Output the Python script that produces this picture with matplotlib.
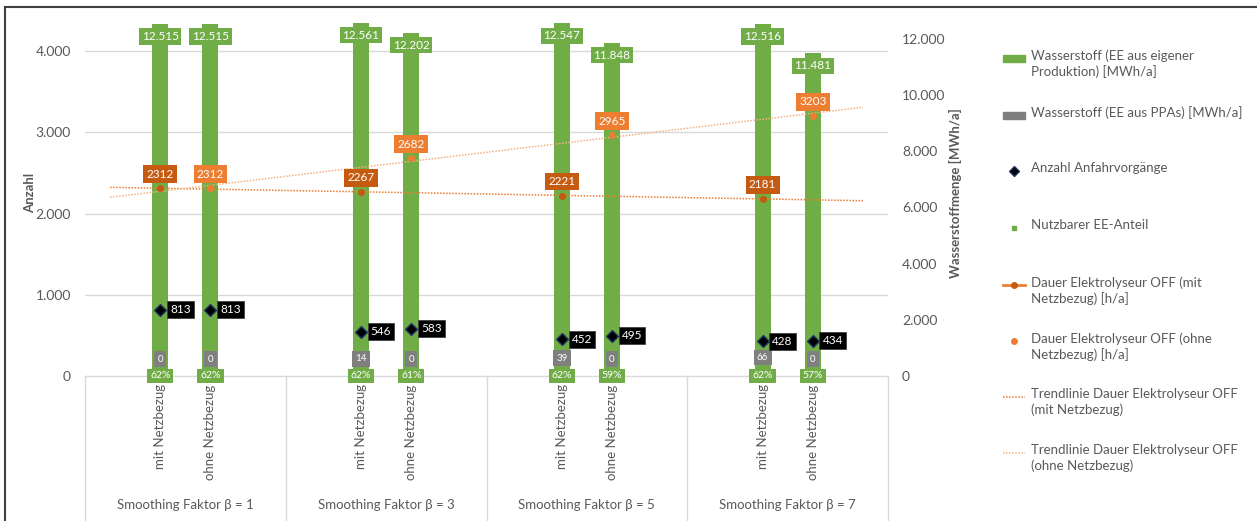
import numpy as np
import matplotlib
matplotlib.use("Agg")
import matplotlib.pyplot as plt
from matplotlib.lines import Line2D
from matplotlib.patches import Rectangle
from matplotlib.transforms import blended_transform_factory

plt.rcParams['font.family'] = ['Lato', 'DejaVu Sans']

# ---- data -------------------------------------------------------------
groups = ["Smoothing Faktor β = 1", "Smoothing Faktor β = 3",
          "Smoothing Faktor β = 5", "Smoothing Faktor β = 7"]
variants = ["mit Netzbezug", "ohne Netzbezug"]
h2_own = [12515, 12515, 12561, 12202, 12547, 11848, 12516, 11481]   # MWh/a
h2_ppa = [0, 0, 14, 0, 39, 0, 66, 0]                                # MWh/a
starts = [813, 813, 546, 583, 452, 495, 428, 434]                   # Anzahl
ee_share = [0.62, 0.62, 0.62, 0.61, 0.62, 0.59, 0.62, 0.57]
off_mit = [2312, 2267, 2221, 2181]    # h/a
off_ohne = [2312, 2682, 2965, 3203]   # h/a

legend_labels = [
    "Wasserstoff (EE aus eigener\nProduktion) [MWh/a]",
    "Wasserstoff (EE aus PPAs) [MWh/a]",
    "Anzahl Anfahrvorgänge",
    "Nutzbarer EE-Anteil",
    "Dauer Elektrolyseur OFF (mit\nNetzbezug) [h/a]",
    "Dauer Elektrolyseur OFF (ohne\nNetzbezug) [h/a]",
    "Trendlinie Dauer Elektrolyseur OFF\n(mit Netzbezug)",
    "Trendlinie Dauer Elektrolyseur OFF\n(ohne Netzbezug)",
]

GREEN = '#70AD47'
GRAY = '#7F7F7F'
DARK_OR = '#C55A11'
OR = '#ED7D31'
PEACH = '#F4B183'
TXT = '#595959'
GRID = '#D9D9D9'

# four category slots per group, bars in the two middle slots
n_slots = 4 * len(groups)
pos = []
for g in range(len(groups)):
    pos += [4 * g + 1, 4 * g + 2]
pos = np.array(pos)
pos_mit = pos[0::2]
pos_ohne = pos[1::2]

def fmt(v):
    return f"{v:,}".replace(",", ".")

W, H = 1257, 521
fig = plt.figure(figsize=(W / 100, H / 100), dpi=100)

def px(x0, y0, x1, y1):
    return [x0 / W, 1 - y1 / H, (x1 - x0) / W, (y1 - y0) / H]

ax = fig.add_axes(px(85, 10.4, 888, 376))     # hydrogen axis (right scale)
ax2 = ax.twinx()                               # count / hours axis (left scale)

ax.set_xlim(-0.5, n_slots - 0.5)
ax.set_ylim(0, 13000)
ax2.set_ylim(0, 4500)

# gridlines of the left scale, behind the bars
gtr = blended_transform_factory(ax.transAxes, ax2.transData)
for v in range(1000, 4001, 1000):
    ax.plot([0, 1], [v, v], transform=gtr, color=GRID, lw=1, zorder=0)

# ---- bars -------------------------------------------------------------
bw = 0.32
ax.bar(pos, h2_own, width=bw, color=GREEN, zorder=2)
ax.bar(pos, h2_ppa, width=bw, color=GRAY, zorder=3)

for x, v in zip(pos, h2_own):
    ax.annotate(fmt(v), xy=(x, v), xytext=(0, -9), textcoords='offset points',
                ha='center', va='center', color='white', fontsize=8.5, zorder=5,
                bbox=dict(boxstyle='square,pad=0.22', fc=GREEN, ec='none'))
for x, v in zip(pos, h2_ppa):
    ax.annotate(fmt(v), xy=(x, v), xytext=(0, 12), textcoords='offset points',
                ha='center', va='center', color='white', fontsize=7, zorder=5,
                bbox=dict(boxstyle='square,pad=0.35', fc=GRAY, ec='none'))

# ---- points on the left scale -----------------------------------------
ax2.plot(pos, ee_share, ls='none', marker='s', color=GREEN, ms=3, zorder=3)
for x, v in zip(pos, ee_share):
    ax2.annotate(f"{v:.0%}", xy=(x, v), xytext=(0, 0), textcoords='offset points',
                 ha='center', va='center', color='white', fontsize=7.5, zorder=6,
                 bbox=dict(boxstyle='square,pad=0.28', fc=GREEN, ec='none'))

ax2.plot(pos, starts, ls='none', marker='D', color='black', mec='#1F3864',
         ms=6, zorder=4)
for x, v in zip(pos, starts):
    ax2.annotate(str(v), xy=(x, v), xytext=(7, 0), textcoords='offset points',
                 ha='left', va='center', color='white', fontsize=8.5, zorder=6,
                 bbox=dict(boxstyle='square,pad=0.25', fc='black', ec='#404040', lw=0.6))

mit_full = np.full(n_slots, np.nan)
mit_full[pos_mit] = off_mit
ax2.plot(np.arange(n_slots), mit_full, color=OR, lw=2, marker='o', ms=4,
         mfc=DARK_OR, mec=DARK_OR, zorder=4)
ax2.plot(pos_ohne, off_ohne, ls='none', marker='o', ms=4, color=OR, zorder=4)

for x, v in zip(pos_mit, off_mit):
    ax2.annotate(str(v), xy=(x, v), xytext=(0, 10), textcoords='offset points',
                 ha='center', va='center', color='white', fontsize=8.5, zorder=6,
                 bbox=dict(boxstyle='square,pad=0.28', fc=DARK_OR, ec='none'))
for x, v in zip(pos_ohne, off_ohne):
    ax2.annotate(str(v), xy=(x, v), xytext=(0, 10), textcoords='offset points',
                 ha='center', va='center', color='white', fontsize=8.5, zorder=6,
                 bbox=dict(boxstyle='square,pad=0.28', fc=OR, ec='none'))

# linear trendlines over all category slots
xs = np.arange(n_slots)
k1, d1 = np.polyfit(pos_mit, off_mit, 1)
k2, d2 = np.polyfit(pos_ohne, off_ohne, 1)
ax2.plot(xs, k1 * xs + d1, ls=(0, (1, 1)), color=OR, lw=1.1, zorder=3)
ax2.plot(xs, k2 * xs + d2, ls=(0, (1, 1)), color=PEACH, lw=1.1, zorder=3)

# ---- axes styling -----------------------------------------------------
for a in (ax, ax2):
    for s in ('top', 'left', 'right'):
        a.spines[s].set_visible(False)
ax2.spines['bottom'].set_visible(False)
ax.spines['bottom'].set_color(GRID)
ax.spines['bottom'].set_linewidth(1)

ax.yaxis.tick_right()
ax.set_yticks(range(0, 12001, 2000))
ax.set_yticklabels([fmt(v) for v in range(0, 12001, 2000)])
ax.tick_params(axis='y', length=0, pad=10, labelsize=10, labelcolor=TXT)

ax2.yaxis.tick_left()
ax2.set_yticks(range(0, 4001, 1000))
ax2.set_yticklabels([fmt(v) for v in range(0, 4001, 1000)])
ax2.tick_params(axis='y', length=0, pad=10, labelsize=10, labelcolor=TXT)

ax.set_xticks(pos)
ax.set_xticklabels(variants * len(groups), rotation=90, va='top', ha='center')
ax.tick_params(axis='x', length=0, pad=6, labelsize=9.5, labelcolor=TXT)

# group separators and group labels below the axis
sep_tr = blended_transform_factory(ax.transData, ax.transAxes)
ax_h = 376 - 10.4
for b in np.arange(-0.5, n_slots, 4):
    ax.add_line(Line2D([b, b], [0, -(520 - 376) / ax_h], transform=sep_tr,
                       color=GRID, lw=1, clip_on=False))
for g, name in enumerate(groups):
    ax.text(4 * g + 1.5, -(505 - 376) / ax_h, name, transform=sep_tr,
            ha='center', va='center', fontsize=9.5, color=TXT)

fig.text(30 / W, 1 - 193 / H, "Anzahl", rotation=90, ha='center', va='center',
         fontsize=9.5, fontweight='bold', color=TXT)
fig.text(955 / W, 1 - 193 / H, "Wasserstoffmenge [MWh/a]", rotation=90,
         ha='center', va='center', fontsize=9.5, fontweight='bold', color=TXT)

# ---- legend -----------------------------------------------------------
lax = fig.add_axes([0, 0, 1, 1], zorder=10)
lax.set_xlim(0, W)
lax.set_ylim(H, 0)
lax.axis('off')
lax.patch.set_visible(False)

ys = [58, 115, 171, 228, 285, 341, 397, 453]
hx0, hx1 = 1003, 1025
hxc = (hx0 + hx1) / 2
lax.add_patch(Rectangle((hx0, ys[0] - 3.5), hx1 - hx0, 7, color=GREEN))
lax.add_patch(Rectangle((hx0, ys[1] - 3.5), hx1 - hx0, 7, color=GRAY))
lax.plot([hxc], [ys[2]], marker='D', color='black', mec='#1F3864', ms=5)
lax.plot([hxc], [ys[3]], marker='s', color=GREEN, ms=3.5)
lax.plot([hx0, hx1], [ys[4], ys[4]], color=OR, lw=2)
lax.plot([hxc], [ys[4]], marker='o', color=DARK_OR, ms=4)
lax.plot([hxc], [ys[5]], marker='o', color=OR, ms=4)
lax.plot([hx0, hx1], [ys[6], ys[6]], ls=(0, (1, 1)), color=OR, lw=1.1)
lax.plot([hx0, hx1], [ys[7], ys[7]], ls=(0, (1, 1)), color=PEACH, lw=1.1)
for y, lab in zip(ys, legend_labels):
    lax.text(1031, y - 9, lab, ha='left', va='top', fontsize=9.5, color=TXT,
             linespacing=1.35)

# outer frame (top and left edges)
lax.plot([5, W], [7, 7], color='#404040', lw=1.5, clip_on=False)
lax.plot([5, 5], [7, H], color='#404040', lw=1.5, clip_on=False)

fig.savefig("out.png", dpi=100, facecolor='white')
